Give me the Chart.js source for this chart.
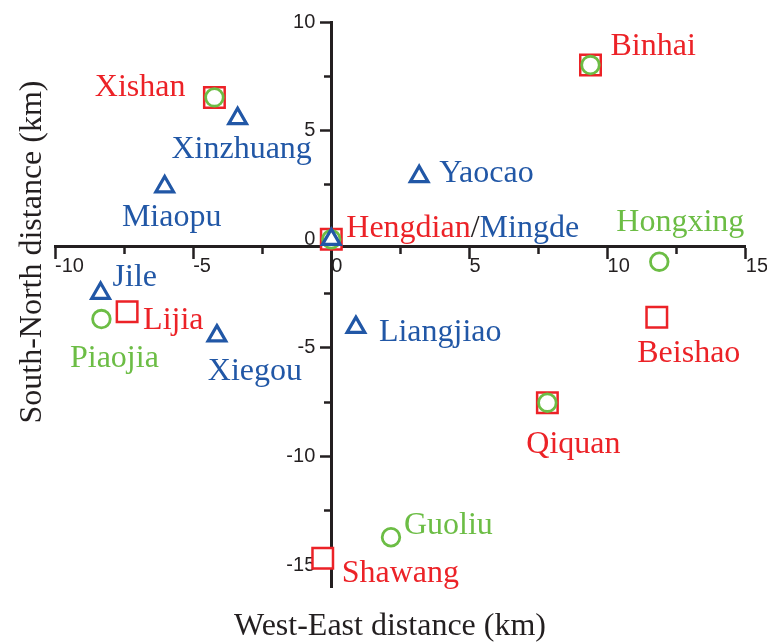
<!DOCTYPE html>
<html>
<head>
<meta charset="utf-8">
<title>Site locations</title>
<script src="https://cdn.jsdelivr.net/npm/chart.js@4/dist/chart.umd.min.js"></script>
<style>
  html, body { margin: 0; padding: 0; background: #ffffff; }
  #wrap { width: 767px; height: 642px; position: relative; }
</style>
</head>
<body>
<div id="wrap"><canvas id="chart"></canvas></div>
<script>
// Site coordinates in km relative to Hengdian/Mingde (x: west-east, y: south-north)
const squareSites = ['Xishan', 'Binhai', 'Hengdian', 'Lijia', 'Beishao', 'Qiquan', 'Shawang'];
const squareX = [-4.23, 9.38, 0, -7.39, 11.78, 7.82, -0.31];
const squareY = [6.53, 8.02, 0, -3.33, -3.59, -7.52, -14.68];

const circleSites = ['Xishan', 'Binhai', 'Hengdian', 'Hongxing', 'Piaojia', 'Qiquan', 'Guoliu'];
const circleX = [-4.23, 9.38, 0, 11.87, -8.32, 7.82, 2.16];
const circleY = [6.53, 8.02, 0, -1.03, -3.67, -7.52, -13.71];

const triangleSites = ['Xinzhuang', 'Miaopu', 'Mingde', 'Yaocao', 'Jile', 'Xiegou', 'Liangjiao'];
const triangleX = [-3.39, -6.03, 0, 3.18, -8.35, -4.14, 0.89];
const triangleY = [5.56, 2.42, 0, 2.89, -2.48, -4.44, -4.05];

const xMajorTicks = [-10, -5, 0, 5, 10, 15];
const xMinorTicks = [-7.5, -2.5, 2.5, 7.5, 12.5];
const yMajorTicks = [-15, -10, -5, 0, 5, 10];
const yMinorTicks = [-12.5, -7.5, -2.5, 2.5, 7.5];

const xTitle = 'West-East distance (km)';
const yTitle = 'South-North distance (km)';

// Colours and fonts
const RED = '#ec2227';
const GREEN = '#6cbd45';
const BLUE = '#2157a6';
const INK = '#231f20';
const SERIF = '"Liberation Serif", "Times New Roman", serif';
const SANS = '"Liberation Sans", Arial, sans-serif';

// Where each site name sits relative to its marker (pixels)
const labelPlacement = {
  Xishan:    { dx: -29, dy: -1,  align: 'right' },
  Binhai:    { dx: 20,  dy: -10, align: 'left' },
  Hengdian:  { dx: 15,  dy: -2,  align: 'left' },
  Lijia:     { dx: 16,  dy: 17,  align: 'left' },
  Beishao:   { dx: 32,  dy: 45,  align: 'center' },
  Qiquan:    { dx: 26,  dy: 50,  align: 'center' },
  Shawang:   { dx: 19,  dy: 24,  align: 'left' },
  Hongxing:  { dx: -43, dy: -31, align: 'left' },
  Piaojia:   { dx: 13,  dy: 48,  align: 'center' },
  Guoliu:    { dx: 13,  dy: -3,  align: 'left' },
  Xinzhuang: { dx: 4,   dy: 40,  align: 'center' },
  Miaopu:    { dx: 7,   dy: 39,  align: 'center' },
  Yaocao:    { dx: 20,  dy: 5,   align: 'left' },
  Jile:      { dx: 12,  dy: -7,  align: 'left' },
  Xiegou:    { dx: 38,  dy: 44,  align: 'center' },
  Liangjiao: { dx: 23,  dy: 14,  align: 'left' },
  Mingde:    { follows: 'Hengdian', joiner: '/' }
};

const toPoints = (xs, ys) => xs.map((x, i) => ({ x: x, y: ys[i] }));

const siteLabels = {
  id: 'siteLabels',
  afterDatasetsDraw(chart) {
    const ctx = chart.ctx;
    const xs = chart.scales.x, ys = chart.scales.y;
    const drawn = {};
    ctx.save();
    ctx.font = '32px ' + SERIF;
    ctx.textBaseline = 'alphabetic';
    chart.data.datasets.forEach(ds => {
      ds.data.forEach((p, i) => {
        const name = ds.siteNames[i];
        const place = labelPlacement[name];
        if (!place || drawn[name]) return;
        if (place.follows) {
          const prev = drawn[place.follows];
          if (!prev) return;
          ctx.textAlign = 'left';
          ctx.fillStyle = INK;
          ctx.fillText(place.joiner, prev.end, prev.y);
          const jx = prev.end + ctx.measureText(place.joiner).width;
          ctx.fillStyle = ds.labelColor;
          ctx.fillText(name, jx, prev.y);
          drawn[name] = { end: jx + ctx.measureText(name).width, y: prev.y };
          return;
        }
        const px = xs.getPixelForValue(p.x) + place.dx;
        const py = ys.getPixelForValue(p.y) + place.dy;
        ctx.textAlign = place.align;
        ctx.fillStyle = ds.labelColor;
        ctx.fillText(name, px, py);
        const w = ctx.measureText(name).width;
        const left = place.align === 'left' ? px : place.align === 'right' ? px - w : px - w / 2;
        drawn[name] = { end: left + w, y: py };
      });
    });
    ctx.restore();
  }
};

const axisTitles = {
  id: 'axisTitles',
  afterDraw(chart) {
    const ctx = chart.ctx;
    ctx.save();
    ctx.font = '32px ' + SERIF;
    ctx.fillStyle = INK;
    ctx.textAlign = 'center';
    ctx.textBaseline = 'alphabetic';
    ctx.fillText(xTitle, 390, 635);
    ctx.translate(41, 252);
    ctx.rotate(-Math.PI / 2);
    ctx.fillText(yTitle, 0, 0);
    ctx.restore();
  }
};

const setTicks = values => scale => { scale.ticks = values.map(v => ({ value: v })); };

// The horizontal axis line sits a little below the zero of the south-north scale;
// the vertical tick numbers are carried by a label-only axis just left of x = 0.
const X_AXIS_AT = -0.35;
const Y_LABELS_AT = -0.58;

new Chart(document.getElementById('chart'), {
  type: 'scatter',
  data: {
    datasets: [
      {
        label: 'Square sites',
        order: 3,
        data: toPoints(squareX, squareY),
        siteNames: squareSites,
        labelColor: RED,
        pointStyle: 'rect',
        pointRadius: 14.5,
        pointHoverRadius: 14.5,
        pointBorderWidth: 2.5,
        pointBorderColor: RED,
        pointBackgroundColor: '#ffffff'
      },
      {
        label: 'Circle sites',
        order: 2,
        data: toPoints(circleX, circleY),
        siteNames: circleSites,
        labelColor: GREEN,
        pointStyle: 'circle',
        pointRadius: 8.8,
        pointHoverRadius: 8.8,
        pointBorderWidth: 2.8,
        pointBorderColor: GREEN,
        pointBackgroundColor: '#ffffff'
      },
      {
        label: 'Triangle sites',
        order: 1,
        data: toPoints(triangleX, triangleY),
        siteNames: triangleSites,
        labelColor: BLUE,
        pointStyle: 'triangle',
        pointRadius: 10.2,
        pointHoverRadius: 10.2,
        pointBorderWidth: 3.2,
        pointBorderColor: BLUE,
        pointBackgroundColor: '#ffffff'
      }
    ]
  },
  options: {
    responsive: true,
    maintainAspectRatio: false,
    animation: false,
    devicePixelRatio: 1,
    layout: { padding: { left: 55, right: 20, top: 22, bottom: 55 } },
    plugins: { legend: { display: false }, tooltip: { enabled: false } },
    scales: {
      x: {
        type: 'linear', min: -10, max: 15,
        position: { y: X_AXIS_AT },
        afterBuildTicks: setTicks(xMajorTicks),
        border: { display: true, color: INK, width: 3 },
        grid: { drawOnChartArea: false, drawTicks: true, tickLength: 11, tickWidth: 2.5, tickColor: INK },
        ticks: { autoSkip: false, align: 'start', padding: -1, color: INK, maxRotation: 0,
                 font: { family: SANS, size: 20, lineHeight: 1 } }
      },
      xMinor: {
        type: 'linear', axis: 'x', min: -10, max: 15,
        position: { y: X_AXIS_AT },
        afterBuildTicks: setTicks(xMinorTicks),
        border: { display: false },
        grid: { drawOnChartArea: false, drawTicks: true, tickLength: 7, tickWidth: 2.5, tickColor: INK },
        ticks: { display: false }
      },
      y: {
        type: 'linear', min: -16, max: 10,
        position: { x: 0 },
        afterBuildTicks: setTicks(yMajorTicks),
        border: { display: true, color: INK, width: 3 },
        grid: { drawOnChartArea: false, drawTicks: true, tickLength: 10, tickWidth: 2.5, tickColor: INK },
        ticks: { display: false }
      },
      yMinor: {
        type: 'linear', axis: 'y', min: -16, max: 10,
        position: { x: 0 },
        afterBuildTicks: setTicks(yMinorTicks),
        border: { display: false },
        grid: { drawOnChartArea: false, drawTicks: true, tickLength: 7, tickWidth: 2.5, tickColor: INK },
        ticks: { display: false }
      },
      yLabels: {
        type: 'linear', axis: 'y', min: -16, max: 10,
        position: { x: Y_LABELS_AT },
        afterBuildTicks: setTicks(yMajorTicks),
        border: { display: false },
        grid: { display: false, drawOnChartArea: false, drawTicks: false },
        ticks: { autoSkip: false, padding: 0, color: INK,
                 font: { family: SANS, size: 20, lineHeight: 1 } }
      }
    }
  },
  plugins: [siteLabels, axisTitles]
});
</script>
</body>
</html>
